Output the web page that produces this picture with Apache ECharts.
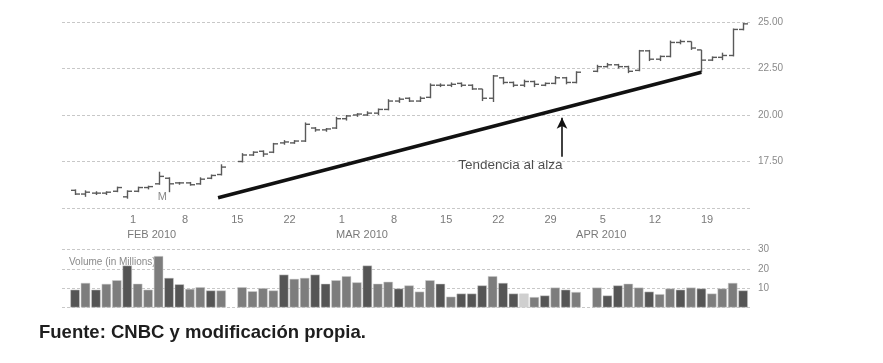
<!DOCTYPE html>
<html>
<head>
<meta charset="utf-8">
<script src="https://cdn.jsdelivr.net/npm/echarts@6/dist/echarts.min.js"></script>
<style>html,body{margin:0;padding:0;background:#fff}#c{width:883px;height:363px}</style>
</head>
<body>
<div id="c"></div>
<script>
// Trading-day slots: slot 0 = Jan 25 2010 ... slot 64 = Apr 23 2010 (null = no bar)
const openPx = [15.95,15.75,15.8,15.8,15.9,15.6,15.9,16.1,16.3,16.6,16.35,16.35,16.3,16.6,16.8,null,
  17.5,17.85,18.05,18.0,18.5,18.5,18.6,19.3,19.2,19.3,19.8,20.0,20.0,20.1,20.3,20.75,20.9,20.75,20.95,
  21.6,21.6,21.7,21.6,21.4,20.9,22.0,21.75,21.6,21.8,21.6,21.7,22.0,21.75,null,
  22.35,22.6,22.7,22.6,22.4,23.45,23.0,23.15,23.9,23.95,23.5,22.95,23.1,23.2,24.6];
const highPx = [16.0,15.95,15.9,15.9,16.15,15.95,16.15,16.2,16.95,16.65,16.4,16.4,16.65,16.8,17.35,null,
  17.95,18.05,18.1,18.5,18.65,18.65,19.6,19.35,19.3,19.9,20.0,20.1,20.2,20.35,20.85,20.95,20.95,21.0,21.7,
  21.7,21.75,21.75,21.65,21.4,22.15,22.05,21.8,21.9,21.85,21.75,22.1,22.05,22.35,null,
  22.7,22.8,22.75,22.65,23.5,23.5,23.2,24.0,24.05,23.95,23.5,23.15,23.35,24.65,24.95];
const lowPx = [15.7,15.6,15.7,15.7,15.85,15.5,15.85,16.0,16.25,15.85,16.25,16.2,16.25,16.55,16.75,null,
  17.45,17.8,17.75,17.95,18.4,18.45,18.55,19.1,19.1,19.25,19.7,19.9,19.95,20.0,20.25,20.65,20.7,20.7,20.9,
  21.5,21.5,21.5,21.35,20.75,20.7,21.65,21.5,21.5,21.5,21.55,21.65,21.65,21.7,null,
  22.3,22.55,22.5,22.25,22.35,22.9,22.9,23.1,23.8,23.5,22.3,22.9,22.95,23.15,24.55];
const closePx = [15.75,15.85,15.8,15.85,16.1,15.9,16.1,16.15,16.7,16.3,16.35,16.25,16.55,16.75,17.2,null,
  17.85,18.0,17.9,18.45,18.55,18.6,19.5,19.2,19.25,19.8,19.95,20.05,20.1,20.3,20.75,20.85,20.75,20.9,21.6,
  21.6,21.65,21.6,21.4,20.9,22.1,21.75,21.6,21.8,21.65,21.7,22.0,21.75,22.3,null,
  22.6,22.7,22.6,22.35,23.45,23.0,23.15,23.9,23.95,23.6,22.95,23.1,23.2,24.6,24.9];
// Volume in millions, and shade code (d = dark, m = medium, l = light)
const volume = [9.2,12.7,9.2,12.2,14.1,21.7,12.3,9.2,26.6,15.3,12.0,9.6,10.5,8.8,8.8,null,
  10.5,8.4,10.0,8.8,17.0,14.8,15.3,17.0,12.3,14.1,16.2,13.0,21.7,12.3,13.3,9.8,11.4,8.2,14.1,
  12.3,5.6,7.2,7.2,11.4,16.2,12.7,7.2,7.2,5.4,6.2,10.3,9.2,8.0,null,
  10.3,6.2,11.4,12.3,10.3,8.2,6.9,9.8,9.2,10.3,9.8,7.2,9.8,12.7,8.8];
const volShade = ['d','m','d','m','m','d','m','m','m','d','d','m','m','d','m','',
  'm','m','m','m','d','m','m','d','d','m','m','m','d','m','m','d','m','m','m',
  'd','m','d','d','d','m','d','d','l','m','d','m','d','m','',
  'm','d','d','m','m','d','m','m','d','m','d','m','m','m','d'];
// Axis labels
const dayTickSlots = [5,10,15,20,25,30,35,40,45,50,55,60];
const dayLabels = ['1','8','15','22','1','8','15','22','29','5','12','19'];
const monthSlots = [5,25,48];
const monthLabels = ['FEB 2010','MAR 2010','APR 2010'];
const priceTicks = [15,17.5,20,22.5,25];
const volTicks = [0,10,20,30];
// Annotations
const trendLine = [[13.7,15.55],[60,22.3]];
const arrowFrom = [46.65,17.75], arrowTo = [46.65,19.85];
const trendText = {slot:41.7, price:17.3, text:'Tendencia al alza'};
const mMark = {slot:8.35, price:15.58, text:'M'};

const shadeColor = {d:'#555555', m:'#7d7d7d', l:'#cfcfcf'};
const X_MIN = -1.25, X_MAX = 64.85, LABEL_SHIFT = 0.55;
const FONT = "'Liberation Sans', Arial, sans-serif";

const ohlc = [];
closePx.forEach((c,i)=>{ if(c!=null) ohlc.push([i, openPx[i], highPx[i], lowPx[i], c]); });
const volData = [];
volume.forEach((v,i)=>{ if(v!=null) volData.push({value:[i,v], itemStyle:{color:shadeColor[volShade[i]]}}); });

const dayVals = dayTickSlots.map(s=>s+LABEL_SHIFT);
const gridLine = {show:true, lineStyle:{color:'#c8c8c8', type:[3,2], width:1}};

const chart = echarts.init(document.getElementById('c'), null, {renderer:'canvas'});
chart.setOption({
  animation:false,
  backgroundColor:'#ffffff',
  title:[
    {text:'Fuente: CNBC y modificación propia.', left:34, top:318,
     textStyle:{fontFamily:FONT, fontWeight:'bold', fontSize:18.5, color:'#1e1e1e'}},
    {text:'Volume (in Millions)', left:64, top:252, z:0,
     textStyle:{fontFamily:FONT, fontWeight:'normal', fontSize:10, color:'#8a8a8a'}}
  ],
  grid:[
    {left:62, right:131, top:22, height:186},
    {left:62, right:131, top:249.5, height:58}
  ],
  xAxis:[
    {type:'value', gridIndex:0, min:X_MIN, max:X_MAX, axisLine:{show:false}, axisTick:{show:false}, splitLine:{show:false},
     axisLabel:{customValues:dayVals, margin:6, color:'#7a7a7a', fontSize:11, fontFamily:FONT,
       formatter:(v)=>{const k=dayVals.findIndex(d=>Math.abs(d-v)<1e-6); return k>=0?dayLabels[k]:'';}}},
    {type:'value', gridIndex:0, min:X_MIN, max:X_MAX, position:'bottom', offset:16, axisLine:{show:false}, axisTick:{show:false}, splitLine:{show:false},
     axisLabel:{customValues:monthSlots, align:'left', margin:5, color:'#7a7a7a', fontSize:11, fontFamily:FONT,
       formatter:(v)=>{const k=monthSlots.indexOf(Math.round(v)); return k>=0?monthLabels[k]:'';}}},
    {type:'value', gridIndex:1, min:X_MIN, max:X_MAX, axisLine:{show:false}, axisTick:{show:false}, splitLine:{show:false}, axisLabel:{show:false}}
  ],
  yAxis:[
    {type:'value', gridIndex:0, position:'right', min:priceTicks[0], max:priceTicks[priceTicks.length-1], interval:2.5,
     axisLine:{show:false}, axisTick:{show:false}, splitLine:gridLine,
     axisLabel:{margin:6, color:'#8a8a8a', fontSize:10, fontFamily:FONT,
       formatter:(v)=> v===priceTicks[0] ? '' : v.toFixed(2)}},
    {type:'value', gridIndex:1, position:'right', min:volTicks[0], max:volTicks[volTicks.length-1], interval:10,
     axisLine:{show:false}, axisTick:{show:false}, splitLine:gridLine,
     axisLabel:{margin:6, color:'#8a8a8a', fontSize:10, fontFamily:FONT,
       formatter:(v)=> v===volTicks[0] ? '' : String(v)}}
  ],
  series:[
    {type:'custom', xAxisIndex:0, yAxisIndex:0, data:ohlc, z:3,
     renderItem:(params, api)=>{
       const x=api.value(0);
       const pO=api.coord([x,api.value(1)]), pH=api.coord([x,api.value(2)]), pL=api.coord([x,api.value(3)]), pC=api.coord([x,api.value(4)]);
       const st={stroke:'#5a5a5a', lineWidth:1.4};
       const cx=Math.round(pH[0])+0.5;
       return {type:'group', children:[
         {type:'line', shape:{x1:cx,y1:pH[1],x2:cx,y2:pL[1]}, style:st},
         {type:'line', shape:{x1:cx-4.5,y1:pO[1],x2:cx,y2:pO[1]}, style:st},
         {type:'line', shape:{x1:cx,y1:pC[1],x2:cx+4.5,y2:pC[1]}, style:st}
       ]};
     }},
    {type:'line', xAxisIndex:0, yAxisIndex:0, data:trendLine, symbol:'none', z:4,
     lineStyle:{color:'#111111', width:3.5},
     markLine:{silent:true, symbol:['none','arrow'], symbolSize:[8,11], label:{show:false},
       lineStyle:{color:'#111111', width:1.6, type:'solid'},
       data:[[{coord:arrowFrom},{coord:arrowTo}]]}},
    {type:'scatter', xAxisIndex:0, yAxisIndex:0, symbolSize:0, z:5,
     data:[[trendText.slot, trendText.price]],
     label:{show:true, position:'inside', formatter:trendText.text, fontFamily:FONT, fontSize:13.5, color:'#222222'}},
    {type:'scatter', xAxisIndex:0, yAxisIndex:0, symbolSize:0, z:5,
     data:[[mMark.slot, mMark.price]],
     label:{show:true, position:'inside', formatter:mMark.text, fontFamily:FONT, fontSize:11, color:'#6a6a6a'}},
    {type:'bar', xAxisIndex:2, yAxisIndex:1, data:volData, barWidth:9.4, z:2,
     itemStyle:{borderColor:'#d0d0d0', borderWidth:0.5}}
  ]
});
</script>
</body>
</html>
